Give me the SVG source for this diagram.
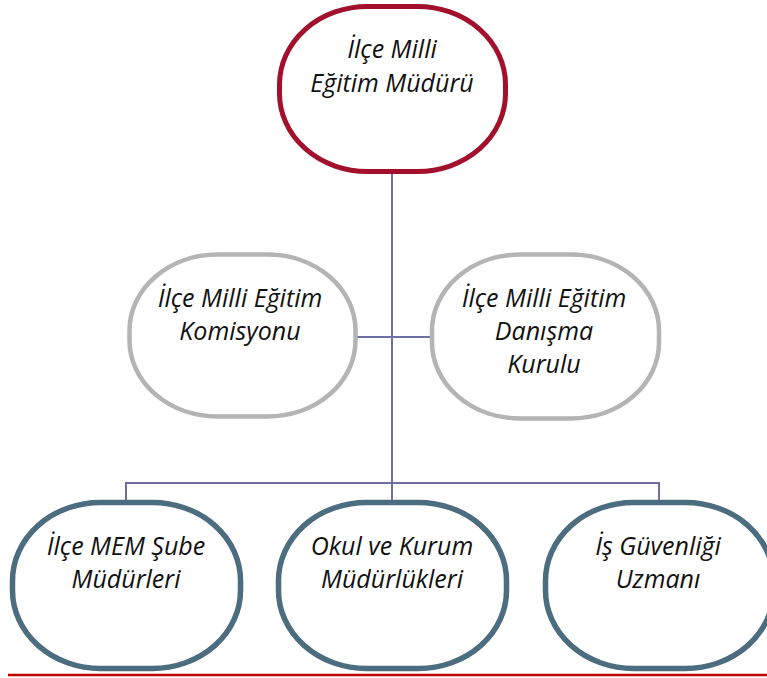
<svg xmlns="http://www.w3.org/2000/svg" width="767" height="678" viewBox="0 0 767 678">
<style>
.n{fill:#fff}
.top{stroke:#A2102C;stroke-width:5}
.mid{stroke:#B4B4B4;stroke-width:4.5}
.bot{stroke:#4C6C80;stroke-width:5.5}
.c{stroke:#6E6EA0;stroke-width:2;fill:none}
text{font-family:"Open Sans","Liberation Sans",sans-serif;font-style:italic;font-size:25px;fill:#111;text-anchor:middle}
</style>
<rect width="767" height="678" fill="#fff"/>
<g id="connectors">
<line class="c" x1="392" y1="172" x2="392" y2="500"/>
<line class="c" x1="355" y1="337" x2="432" y2="337"/>
<polyline class="c" points="126,500 126,483 659,483 659,502"/>
</g>
<g id="n_mudur">
<rect class="n top" x="279.5" y="6.5" width="226" height="165" rx="88" ry="78"/>
<text x="392" y="58">İlçe Milli</text>
<text x="392" y="92">Eğitim Müdürü</text>
</g>
<g id="n_komisyon">
<rect class="n mid" x="129.5" y="254.5" width="226" height="162" rx="88" ry="76"/>
<text x="240" y="307">İlçe Milli Eğitim</text>
<text x="240" y="340">Komisyonu</text>
</g>
<g id="n_danisma">
<rect class="n mid" x="432" y="254.5" width="227" height="164" rx="88" ry="76"/>
<text x="544" y="307">İlçe Milli Eğitim</text>
<text x="544" y="340">Danışma</text>
<text x="544" y="373">Kurulu</text>
</g>
<g id="n_sube">
<rect class="n bot" x="12.5" y="502.5" width="228" height="166" rx="88" ry="78"/>
<text x="126" y="555">İlçe MEM Şube</text>
<text x="126" y="588">Müdürleri</text>
</g>
<g id="n_okul">
<rect class="n bot" x="278.5" y="502.5" width="228" height="166" rx="88" ry="78"/>
<text x="392" y="555">Okul ve Kurum</text>
<text x="392" y="588">Müdürlükleri</text>
</g>
<g id="n_isg">
<rect class="n bot" x="545.5" y="502.5" width="228" height="166" rx="88" ry="78"/>
<text x="658" y="555">İş Güvenliği</text>
<text x="658" y="588">Uzmanı</text>
</g>
<line x1="8" y1="675" x2="767" y2="675" stroke="#C00000" stroke-width="2.5"/>
</svg>
